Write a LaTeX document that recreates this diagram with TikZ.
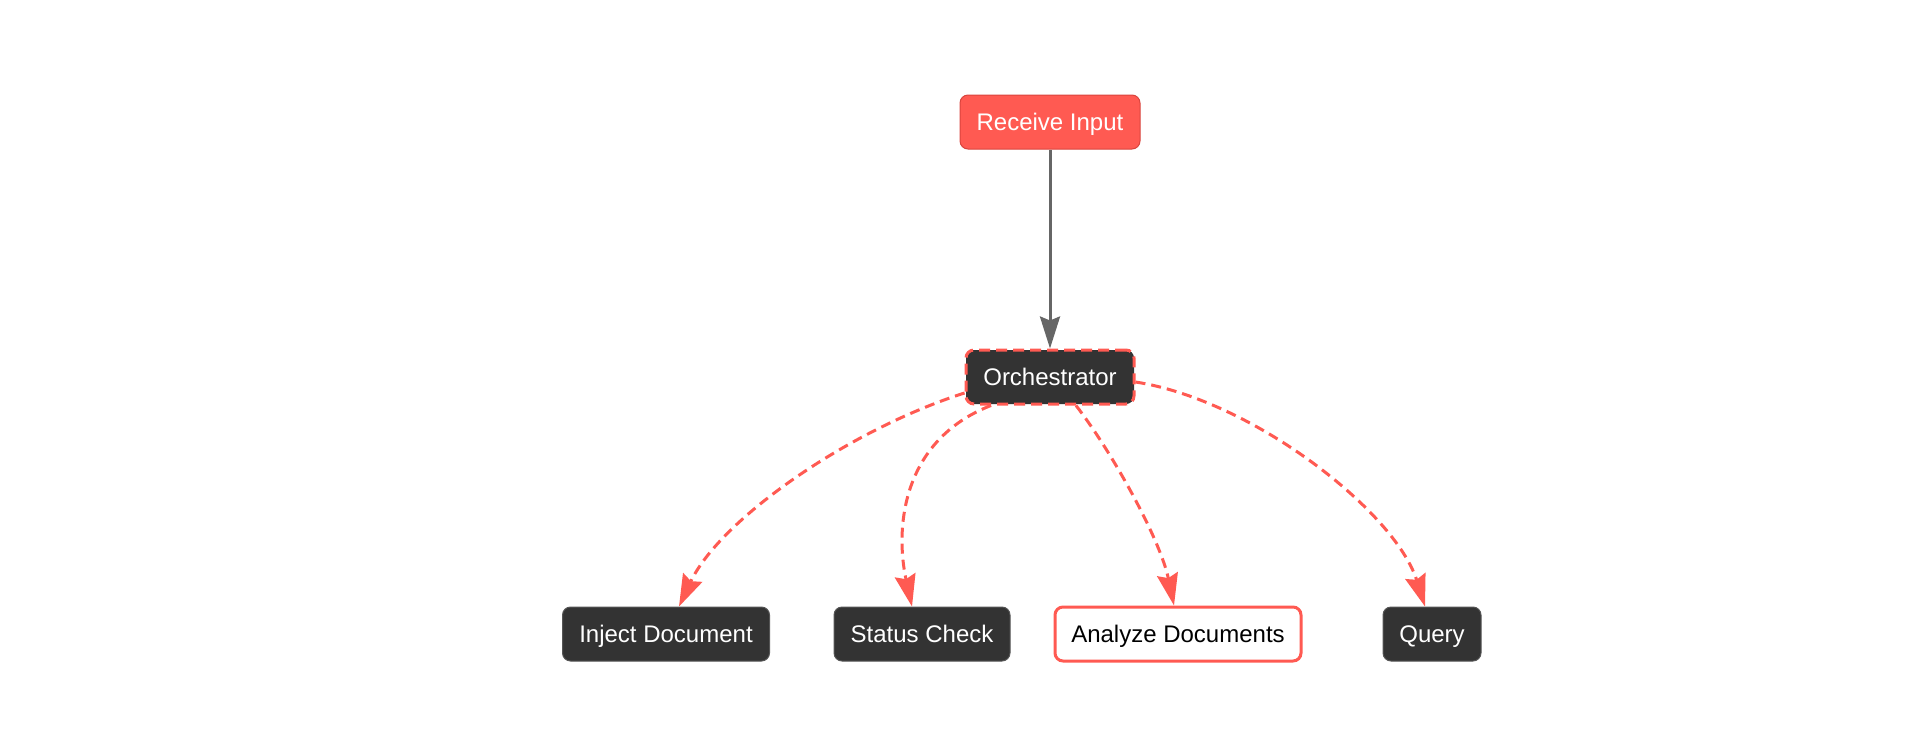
\documentclass[tikz,border=0pt]{standalone}
\usepackage{fontspec}
\setmainfont{Liberation Sans}
\usetikzlibrary{arrows.meta}
\definecolor{mred}{HTML}{FF5A52}
\definecolor{mredborder}{HTML}{D9443D}
\definecolor{mdark}{HTML}{333333}
\definecolor{mdarkborder}{HTML}{555555}
\definecolor{mgray}{HTML}{666666}
\begin{document}
\begin{tikzpicture}[x=1pt,y=-1pt,
  box/.style={rounded corners=8pt, minimum height=54pt, inner sep=0pt,
    font=\fontsize{24}{28}\selectfont, text height=17pt, text depth=0pt, text=white},
  darkbox/.style={box, fill=mdark, draw=mdarkborder, line width=1pt},
  redbox/.style={box, fill=mred, draw=mredborder, line width=1pt},
  orchbox/.style={box, fill=mdark, draw=mred, line width=3pt, dash pattern=on 11pt off 6pt},
  whitebox/.style={box, fill=white, draw=mred, line width=3pt, text=black},
  solidarrow/.style={draw=mgray, line width=3pt, -{Stealth[length=32pt,width=20pt,inset=4pt]}, fill=mgray},
  dasharrow/.style={draw=mred, line width=3pt, dash pattern=on 10pt off 6pt,
    -{Stealth[length=32pt,width=21pt,inset=4pt,fill=mred]}},
]
\useasboundingbox (0,0) rectangle (1905,750);

\node[redbox, minimum width=180pt] (recv) at (1050,122) {Receive Input};
\node[orchbox, minimum width=168pt] (orch) at (1050,377) {Orchestrator};
\node[darkbox, minimum width=207pt] (inj) at (666,634) {Inject Document};
\node[darkbox, minimum width=176pt] (stat) at (922,634) {Status Check};
\node[whitebox, minimum width=246pt] (ana) at (1178,634) {Analyze Documents};
\node[darkbox, minimum width=98pt] (query) at (1432,634) {Query};

\draw[solidarrow] (recv.south) -- (orch.north);

\draw[dasharrow] ([yshift=-16pt]orch.west) .. controls +(-116,37) and +(41,-87) .. ([xshift=13pt]inj.north);
\draw[dasharrow] ([xshift=-59pt]orch.south) .. controls +(-90,35) and +(-17,-77) .. ([xshift=-10pt]stat.north);
\draw[dasharrow] ([xshift=26pt]orch.south) .. controls +(35,45) and +(-14,-67) .. ([xshift=-4pt]ana.north);
\draw[dasharrow] ([yshift=-5pt]orch.east) .. controls +(117,18) and +(-30,-95) .. ([xshift=-7pt]query.north);
\end{tikzpicture}
\end{document}
